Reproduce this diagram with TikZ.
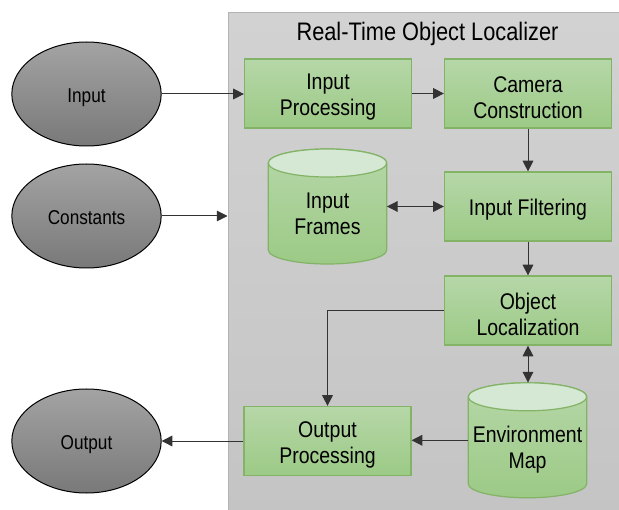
\documentclass[tikz,border=0pt]{standalone}
\usepackage{fontspec}
\setmainfont{Liberation Sans}[FakeStretch=0.86]
\usetikzlibrary{arrows.meta,shapes.geometric,calc}
\definecolor{gtop}{HTML}{B6D7A8}
\definecolor{gbot}{HTML}{9CCA86}
\definecolor{gline}{HTML}{82B366}
\definecolor{cyltop}{HTML}{D5E8D4}
\definecolor{etop}{HTML}{A3A3A3}
\definecolor{ebot}{HTML}{797979}
\definecolor{ctop}{HTML}{D2D2D2}
\definecolor{cbot}{HTML}{C4C4C4}
\definecolor{cline}{HTML}{B3B3B3}
\definecolor{aline}{HTML}{333333}
\newcommand{\mycyl}[1]{%
  \path[cylbody] ([shift={(-59.2,-43.5)}]#1) -- ([shift={(-59.2,43.5)}]#1)
    arc[start angle=180,end angle=360,x radius=44.4pt,y radius=10.5pt]
    -- ([shift={(59.2,-43.5)}]#1)
    arc[start angle=0,end angle=180,x radius=44.4pt,y radius=10.5pt] -- cycle;
  \draw[cylline, fill=cyltop] ([shift={(0,-43.5)}]#1) ellipse [x radius=44.4pt, y radius=10.5pt];
}
\begin{document}
\begin{tikzpicture}[x=0.75pt,y=-0.75pt,
  procbox/.style={draw=gline, line width=0.9pt, top color=gtop, bottom color=gbot,
    minimum width=125.25pt, minimum height=51.75pt, inner sep=0pt, align=center,
    text height=37pt, font=\fontsize{17}{19.5}\selectfont},
  onebox/.style={procbox, text height=17pt},
  extnode/.style={ellipse, draw=black, line width=0.75pt, top color=etop, bottom color=ebot,
    minimum width=112pt, minimum height=78pt, inner sep=0pt, text height=15.5pt, text depth=3.2pt,
    font=\fontsize{15}{18}\selectfont},
  cylnode/.style={minimum width=88.8pt, minimum height=86.25pt, inner sep=0pt},
  cyllabel/.style={align=center, font=\fontsize{17}{19.5}\selectfont, yshift=-5.6pt},
  conn/.style={draw=aline, line width=0.75pt, -{Triangle[length=8pt,width=8pt]}},
  biconn/.style={draw=aline, line width=0.75pt, {Triangle[length=8pt,width=8pt]}-{Triangle[length=8pt,width=8pt]}},
  cylbody/.style={draw=gline, line width=0.9pt, top color=gtop, bottom color=gbot},
  cylline/.style={draw=gline, line width=0.9pt},
  container/.style={draw=cline, line width=0.75pt, top color=ctop, bottom color=cbot,
    minimum width=294pt, minimum height=376.9pt, inner sep=0pt}
]
\useasboundingbox (0,0) rectangle (619,510);
\node[container] (sys) at (424,263.75) {};
\node[font=\fontsize{19}{22}\selectfont, anchor=base] (title) at (427.5,40.5) {Real-Time Object Localizer};

\coordinate (ifrc) at (327.5,206.5);
\coordinate (emc) at (527.5,440.3);
\mycyl{ifrc}
\mycyl{emc}

\node[extnode] (inp) at (86.5,94) {Input};
\node[extnode] (cst) at (86.5,216) {Constants};
\node[extnode] (out) at (86.5,441) {Output};

\node[procbox] (ip) at (328,93.5) {Input\\Processing};
\node[procbox] (cc) at (528,93.5) {Camera\\Construction};
\node[onebox] (if) at (528,206.5) {Input Filtering};
\node[procbox] (ol) at (528,310.5) {Object\\Localization};
\node[procbox] (op) at (327.5,441) {Output\\Processing};

\node[cylnode, label={[cyllabel]center:{Input\\Frames}}] (ifr) at (ifrc) {};
\node[cylnode, label={[cyllabel, yshift=-1.2pt]center:{Environment\\Map}}] (em) at (emc) {};

\draw[conn] (inp.east) -- (ip.west |- inp.east);
\draw[conn] (cst.east) -- (sys.west |- cst.east);
\draw[conn] (ip.east) -- (cc.west);
\draw[conn] (cc.south) -- (if.north);
\draw[biconn] (ifr.east) -- (if.west);
\draw[conn] (if.south) -- (ol.north);
\draw[conn] (ol.west) -| (op.north);
\draw[biconn] (ol.south) -- (ol.south |- em.north);
\draw[conn] (em.west) -- (em.west -| op.east);
\draw[conn] (op.west) -- (out.east |- op.west);
\end{tikzpicture}
\end{document}
